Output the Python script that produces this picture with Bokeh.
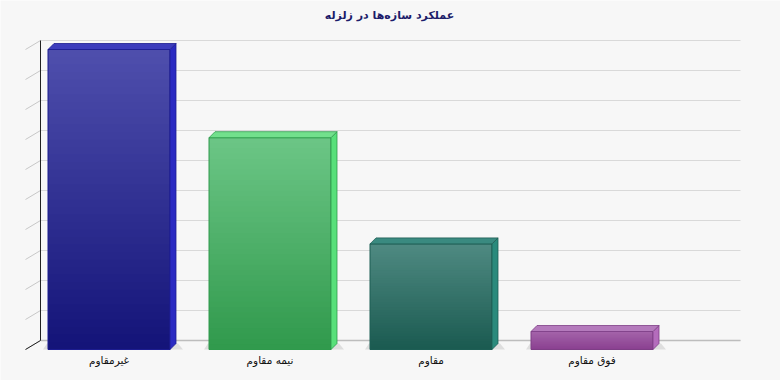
from bokeh.plotting import figure
from bokeh.models import Range1d
from bokeh.core.properties import value
from bokeh.embed import file_html
from bokeh.resources import INLINE

# ---- data ----
title_text = "عملکرد سازه‌ها در زلزله"
categories = ["غیرمقاوم", "نیمه مقاوم", "مقاوم", "فوق مقاوم"]
values = [50, 35.3, 17.6, 3]
grid_ticks = [0, 5, 10, 15, 20, 25, 30, 35, 40, 45, 50]

top_colors = ["#4f4fad", "#6cc686", "#4f8a82", "#a464aa"]
bottom_colors = ["#131378", "#30994c", "#1a5a50", "#8a4090"]
side_colors = ["#2a2ac2", "#58e07a", "#2a8a7c", "#b46cbc"]
cap_colors = ["#3c3cbc", "#72e08c", "#3a8a80", "#b47abc"]
edge_colors = ["#1c1c90", "#2f9a4c", "#1d5e54", "#7e3e86"]

# ---- layout constants (pixels -> data units) ----
PX_X = 161.0   # pixels per category
PX_Y = 6.0     # pixels per value unit
X0 = 108.5     # pixel of first bar centre
Y0 = 340.0     # pixel of value 0 on the back wall
W, H = 780, 380

def xd(px):
    return (px - X0) / PX_X

bar_w = 122 / PX_X
dx = 6 / PX_X           # bar depth in x
dy = 6 / PX_Y           # bar depth in y
front_drop = 9 / PX_Y   # front face bottom below the wall floor
wall_l, wall_r = xd(40), xd(740)
wall_front_l = xd(25)

p = figure(width=W, height=H, output_backend="svg", toolbar_location=None,
           x_range=Range1d(xd(0), xd(W)),
           y_range=Range1d(-(H - Y0) / PX_Y, Y0 / PX_Y),
           min_border=0, min_border_left=0, min_border_right=0,
           min_border_top=0, min_border_bottom=0)
p.axis.visible = False
p.grid.visible = False
p.outline_line_color = None
p.background_fill_color = "#f7f7f7"
p.border_fill_color = "#f7f7f7"

# back-wall grid lines
p.segment(x0=[wall_l] * len(grid_ticks), y0=grid_ticks,
          x1=[wall_r] * len(grid_ticks), y1=grid_ticks,
          line_color="#d9d9d9", line_width=1)
# slanted side-wall ticks
p.segment(x0=[wall_l] * len(grid_ticks), y0=grid_ticks,
          x1=[wall_front_l] * len(grid_ticks), y1=[t - front_drop for t in grid_ticks],
          line_color="#c8c8c8", line_width=1)
# floor line
p.segment(x0=[wall_l], y0=[0], x1=[wall_r], y1=[0], line_color="#bdbdbd", line_width=1.5)
# black axis edges
p.segment(x0=[wall_l, wall_l], y0=[0, 0], x1=[wall_l, wall_front_l],
          y1=[grid_ticks[-1], -front_drop], line_color="#222222", line_width=1)

def mix(c1, c2, t):
    a = [int(c1[i:i + 2], 16) for i in (1, 3, 5)]
    b = [int(c2[i:i + 2], 16) for i in (1, 3, 5)]
    return "#%02x%02x%02x" % tuple(round(a[k] + (b[k] - a[k]) * t) for k in range(3))

N = 40
for i, v in enumerate(values):
    xl = i - bar_w / 2
    xr = i + bar_w / 2
    yb = -front_drop
    yt = v - front_drop
    # floor shadow
    p.patch(x=[xl - 5 / PX_X, xr + dx + 7 / PX_X, xr + dx + 2 / PX_X, xl - 1 / PX_X],
            y=[yb, yb, yb + dy, yb + dy], fill_color="#dedede", line_color=None)
    # front face gradient: overlapping strips (each reaches to the top)
    h = (yt - yb) / N
    p.quad(left=[xl] * N, right=[xr] * N,
           bottom=[yb + k * h for k in range(N)],
           top=[yt] * N,
           fill_color=[mix(bottom_colors[i], top_colors[i], (k + 0.5) / N) for k in range(N)],
           line_color=None)
    p.quad(left=[xl], right=[xr], bottom=[yb], top=[yt],
           fill_color=None, line_color=edge_colors[i], line_width=1)
    # side face
    p.patch(x=[xr, xr + dx, xr + dx, xr], y=[yb, yb + dy, yt + dy, yt],
            fill_color=side_colors[i], line_color=edge_colors[i], line_width=0.8)
    # top face
    p.patch(x=[xl, xl + dx, xr + dx, xr], y=[yt, yt + dy, yt + dy, yt],
            fill_color=cap_colors[i], line_color=edge_colors[i], line_width=0.8)

# category labels
p.text(x=list(range(len(categories))), y=[-(359 - Y0) / PX_Y] * len(categories),
       text=categories, text_align="center", text_baseline="middle",
       text_font=value("DejaVu Sans"), text_font_size="10.5px", text_color="#111111")

# title
p.text(x=[xd(389)], y=[(Y0 - 15) / PX_Y], text=[title_text],
       text_align="center", text_baseline="middle",
       text_font=value("DejaVu Sans"), text_font_size="11px",
       text_font_style="bold", text_color="#1c1c6a")

open("out.html", "w").write(file_html(p, INLINE))
